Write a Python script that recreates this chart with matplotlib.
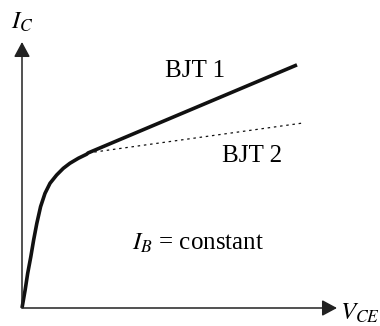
import matplotlib
matplotlib.use('Agg')
import matplotlib.pyplot as plt
import numpy as np

plt.rcParams['mathtext.fontset'] = 'stix'
plt.rcParams['font.family'] = ['Liberation Serif', 'DejaVu Serif']

# saturation region (common part), V_CE vs I_C in arbitrary units
v_sat = [0.0, 0.10, 0.18, 0.28, 0.37, 0.47, 0.59, 0.73, 0.89, 1.10, 1.31, 1.52, 1.79, 2.05, 2.10]
i_sat = [0.0, 0.68, 1.30, 1.93, 2.56, 3.18, 3.81, 4.31, 4.69, 5.00, 5.25, 5.44, 5.63, 5.78, 5.83]

# active region, straight lines from the knee
v_bjt1 = [2.10, 8.73]
i_bjt1 = [5.83, 9.14]
v_bjt2 = [2.10, 8.89]
i_bjt2 = [5.83, 6.95]

fig = plt.figure(figsize=(3.8, 3.26), dpi=100)
ax = fig.add_axes([22/380, 18/326, 315/380, 266/326])
ax.set_xlim(0, 10)
ax.set_ylim(0, 10)
ax.axis('off')

# axes with arrows
arrow = dict(arrowstyle='-|>,head_length=0.65,head_width=0.35', mutation_scale=14,
             lw=1.1, color='#222222', shrinkA=0, shrinkB=0)
ax.annotate('', xy=(10, 0), xytext=(0, 0), arrowprops=arrow, annotation_clip=False)
ax.annotate('', xy=(0, 10), xytext=(0, 0), arrowprops=arrow, annotation_clip=False)

ax.plot(v_sat + v_bjt1[1:], i_sat + i_bjt1[1:], color='#111111', lw=2.6,
        solid_capstyle='butt', solid_joinstyle='round', clip_on=False)
ax.plot(v_bjt2, i_bjt2, color='#111111', lw=0.9, linestyle=(0, (2, 3)), clip_on=False)

ax.text(-0.35, 10.75, r'$I_C$', fontsize=18, ha='left', va='center')
ax.text(10.1, -0.2, r'$V_{CE}$', fontsize=18, ha='left', va='center')
ax.text(5.49, 8.91, 'BJT 1', fontsize=18, ha='center', va='center')
ax.text(7.30, 5.71, 'BJT 2', fontsize=18, ha='center', va='center')
ax.text(5.59, 2.44, r'$I_B$ = constant', fontsize=18, ha='center', va='center')

fig.savefig('out.png', dpi=100)
